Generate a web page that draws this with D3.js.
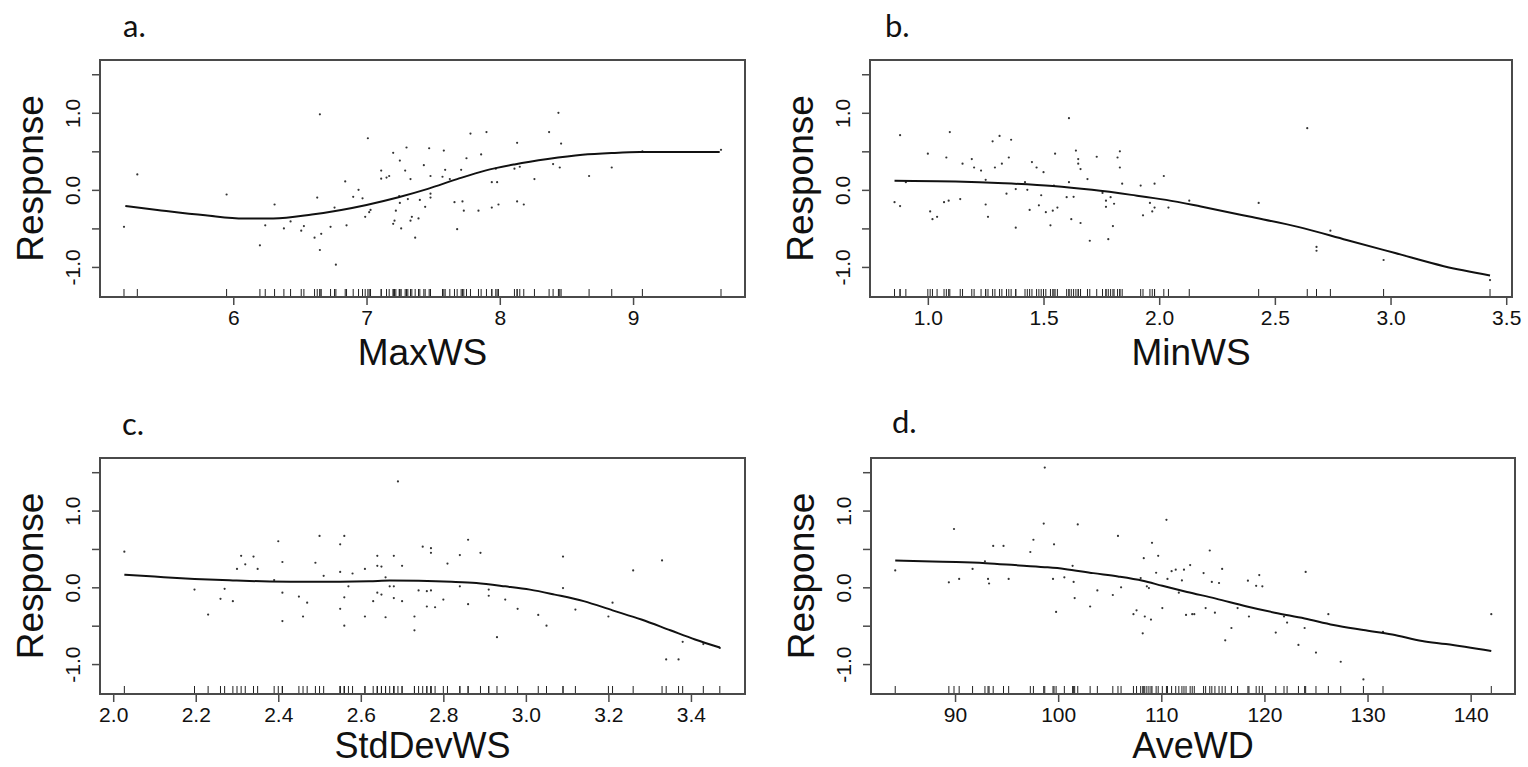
<!DOCTYPE html>
<html><head><meta charset="utf-8">
<script src="https://cdn.jsdelivr.net/npm/d3@7"></script>
<style>html,body{margin:0;padding:0;background:#fff;}svg{display:block;}</style>
</head><body>
<svg id="chart" width="1528" height="767"></svg>
<script>
// ---------- Data ----------
const panelLetters = ["a.", "b.", "c.", "d."];
const xLabels = ["MaxWS", "MinWS", "StdDevWS", "AveWD"];
const yLabel = "Response";
const yTicks = [-1, -0.5, 0, 0.5, 1, 1.5];
const yTickLabels = { "-1": "-1.0", "0": "0.0", "1": "1.0" };

const xTicksA = [6, 7, 8, 9];
const xTicksB = [1.0, 1.5, 2.0, 2.5, 3.0, 3.5];
const xTicksC = [2.0, 2.2, 2.4, 2.6, 2.8, 3.0, 3.2, 3.4];
const xTicksD = [90, 100, 110, 120, 130, 140];

// smooth response curves [x, y]
const curveA = [[5.19,-0.21],[5.43,-0.26],[5.79,-0.33],[6.08,-0.372],[6.30,-0.372],[6.59,-0.32],[6.81,-0.26],[7.0,-0.195],[7.24,-0.095],[7.46,0.013],[7.68,0.14],[7.89,0.25],[8.11,0.33],[8.36,0.40],[8.62,0.455],[8.84,0.478],[9.05,0.49],[9.65,0.49]];
const curveB = [[0.856,0.117],[1.12,0.108],[1.33,0.086],[1.54,0.05],[1.71,0.0],[1.88,-0.065],[2.03,-0.13],[2.18,-0.216],[2.39,-0.346],[2.60,-0.48],[2.81,-0.65],[3.02,-0.82],[3.23,-0.99],[3.43,-1.11]];
const curveC = [[2.027,0.164],[2.10,0.14],[2.197,0.11],[2.29,0.09],[2.36,0.078],[2.43,0.073],[2.55,0.073],[2.62,0.078],[2.67,0.09],[2.74,0.086],[2.82,0.073],[2.88,0.056],[2.95,0.013],[3.01,-0.03],[3.07,-0.095],[3.14,-0.18],[3.21,-0.30],[3.28,-0.42],[3.35,-0.56],[3.41,-0.68],[3.47,-0.785]];
const curveD = [[84.2,0.35],[87.8,0.336],[90.1,0.33],[93.0,0.315],[95.8,0.29],[98.7,0.263],[100.6,0.24],[103.4,0.185],[105.8,0.142],[108.2,0.086],[110.1,0.02],[112.5,-0.06],[115.3,-0.147],[118.2,-0.246],[121.0,-0.33],[123.9,-0.405],[126.7,-0.49],[129.6,-0.556],[132.4,-0.616],[135.3,-0.70],[137.6,-0.74],[142.0,-0.83]];

// partial residual points [x, y]; rug uses the x values
const pointsA = [[5.18,-0.48],[5.28,0.20],[5.95,-0.06],[6.20,-0.72],[6.24,-0.46],[6.31,-0.19],[6.38,-0.5],[6.43,-0.41],[6.51,-0.53],[6.53,-0.47],[6.61,-0.62],[6.63,-0.10],[6.65,0.98],[6.65,-0.78],[6.66,-0.57],[6.73,-0.48],[6.76,-0.23],[6.77,-0.97],[6.84,0.11],[6.85,-0.46],[6.90,-0.09],[6.94,0.0],[6.97,-0.11],[6.99,-0.35],[7.01,0.67],[7.02,-0.29],[7.03,-0.26],[7.11,0.25],[7.11,0.145],[7.15,0.16],[7.17,0.18],[7.20,0.48],[7.20,-0.44],[7.21,-0.40],[7.22,-0.27],[7.245,-0.08],[7.25,0.38],[7.25,-0.17],[7.26,-0.5],[7.29,0.25],[7.30,0.55],[7.31,-0.12],[7.33,0.14],[7.33,-0.4],[7.34,-0.35],[7.365,-0.62],[7.39,-0.37],[7.40,-0.13],[7.43,0.32],[7.44,-0.22],[7.47,0.54],[7.48,0.18],[7.48,-0.05],[7.48,-0.1],[7.57,0.17],[7.58,0.51],[7.59,0.26],[7.625,0.14],[7.66,-0.16],[7.68,-0.51],[7.71,0.26],[7.72,-0.15],[7.73,-0.27],[7.75,0.41],[7.78,0.73],[7.84,-0.27],[7.86,0.46],[7.90,0.75],[7.94,0.10],[7.94,-0.23],[7.97,0.275],[7.98,0.10],[7.99,-0.19],[8.11,0.275],[8.13,0.61],[8.13,-0.15],[8.15,0.30],[8.18,-0.19],[8.26,0.14],[8.37,0.75],[8.40,0.335],[8.44,1.0],[8.45,0.29],[8.46,0.60],[8.67,0.18],[8.84,0.29],[9.07,0.50],[9.66,0.52]];
const pointsB = [[0.856,-0.16],[0.88,-0.21],[0.88,0.71],[0.905,0.1],[1.0,0.47],[1.01,-0.28],[1.02,-0.38],[1.04,-0.35],[1.07,-0.16],[1.08,0.42],[1.09,-0.14],[1.095,0.75],[1.14,-0.12],[1.15,0.34],[1.19,0.40],[1.20,0.29],[1.23,0.25],[1.25,-0.19],[1.25,0.13],[1.26,-0.35],[1.28,0.63],[1.29,0.29],[1.31,0.70],[1.32,0.34],[1.34,-0.05],[1.35,0.42],[1.36,0.65],[1.38,-0.49],[1.38,0.01],[1.42,0.10],[1.43,0.0],[1.44,-0.26],[1.45,0.36],[1.47,0.29],[1.48,-0.20],[1.49,-0.07],[1.50,0.23],[1.51,-0.29],[1.53,-0.46],[1.54,-0.27],[1.545,0.056],[1.55,0.47],[1.56,-0.23],[1.60,-0.095],[1.61,0.93],[1.61,0.10],[1.62,-0.38],[1.63,-0.09],[1.64,0.51],[1.65,0.34],[1.65,0.40],[1.66,-0.43],[1.66,0.27],[1.69,0.14],[1.70,-0.66],[1.73,0.43],[1.755,-0.04],[1.77,-0.14],[1.77,-0.22],[1.78,-0.64],[1.79,-0.095],[1.80,-0.47],[1.805,-0.18],[1.82,0.42],[1.83,0.29],[1.83,0.50],[1.84,0.08],[1.92,0.056],[1.93,-0.33],[1.96,-0.17],[1.97,-0.28],[1.98,-0.23],[1.98,0.08],[2.02,0.18],[2.04,-0.23],[2.13,-0.14],[2.43,-0.17],[2.64,0.80],[2.68,-0.74],[2.68,-0.79],[2.74,-0.53],[2.97,-0.91],[3.43,-1.17]];
const pointsC = [[2.027,0.465],[2.197,-0.03],[2.23,-0.355],[2.26,-0.15],[2.27,-0.02],[2.29,-0.18],[2.30,0.24],[2.31,0.41],[2.32,0.30],[2.34,0.40],[2.35,0.24],[2.39,0.095],[2.40,0.60],[2.41,0.33],[2.41,-0.07],[2.41,-0.44],[2.45,-0.12],[2.46,-0.38],[2.47,-0.20],[2.49,0.32],[2.50,0.67],[2.51,0.15],[2.55,0.20],[2.55,0.56],[2.55,-0.28],[2.56,0.67],[2.56,-0.13],[2.56,-0.50],[2.57,0.013],[2.58,0.18],[2.61,0.24],[2.61,-0.38],[2.63,-0.18],[2.64,0.41],[2.64,0.28],[2.64,-0.07],[2.65,-0.095],[2.65,0.27],[2.66,0.13],[2.66,-0.39],[2.67,0.013],[2.68,0.013],[2.68,-0.14],[2.68,0.41],[2.69,1.38],[2.70,0.28],[2.70,-0.18],[2.73,-0.38],[2.73,-0.56],[2.74,-0.04],[2.75,0.53],[2.76,-0.05],[2.76,-0.25],[2.77,0.45],[2.77,0.51],[2.77,-0.04],[2.78,-0.26],[2.80,-0.16],[2.81,0.31],[2.84,0.42],[2.84,0.013],[2.86,0.62],[2.86,-0.22],[2.89,0.45],[2.91,-0.03],[2.91,-0.11],[2.93,-0.65],[2.95,-0.16],[2.98,-0.28],[3.03,-0.36],[3.05,-0.50],[3.09,0.40],[3.09,-0.01],[3.12,-0.29],[3.20,-0.38],[3.21,-0.20],[3.26,0.22],[3.33,0.35],[3.34,-0.94],[3.37,-0.94],[3.38,-0.71],[3.43,-0.74],[3.47,-0.79]];
const pointsD = [[84.2,0.22],[89.4,0.065],[89.9,0.76],[90.4,0.11],[91.7,0.24],[92.9,0.34],[93.2,0.11],[93.3,0.05],[93.7,0.54],[94.7,0.54],[95.2,0.11],[97.3,0.46],[97.6,0.62],[98.6,0.83],[98.7,1.56],[99.5,0.11],[99.6,0.56],[99.8,-0.32],[100.6,0.13],[101.4,0.28],[101.5,0.07],[101.6,-0.14],[101.9,0.82],[103.1,-0.25],[103.8,-0.04],[105.3,-0.10],[105.8,0.67],[106.1,0.0],[107.3,-0.35],[107.6,-0.30],[108.0,0.12],[108.2,-0.60],[108.3,0.38],[108.4,-0.38],[108.6,0.013],[108.8,-0.01],[109.0,-0.42],[109.1,0.58],[109.5,0.19],[109.7,0.41],[110.1,-0.27],[110.5,0.88],[110.6,0.11],[111.0,0.21],[111.4,0.23],[111.7,-0.07],[112.0,0.09],[112.2,0.23],[112.4,-0.36],[112.8,0.29],[113.0,-0.35],[113.2,-0.35],[114.1,0.185],[114.3,-0.27],[114.7,0.48],[114.9,0.07],[115.2,-0.33],[115.6,0.056],[115.9,0.24],[116.2,-0.69],[116.8,-0.53],[117.4,-0.27],[118.4,0.086],[118.5,-0.38],[119.2,0.02],[119.5,0.16],[119.8,0.013],[121.1,-0.59],[121.9,-0.38],[122.2,-0.46],[123.3,-0.75],[123.9,-0.53],[124.0,0.20],[125.0,-0.85],[126.2,-0.35],[127.4,-0.97],[129.6,-1.20],[131.5,-0.58],[142.0,-0.35]];

// ---------- Layout ----------
const panels = [
  { box:[100,60,745,297], xdom:[5.0,9.84], ticks:xTicksA, fmt:d3.format("d"), curve:curveA, pts:pointsA, letterPos:[123,37] },
  { box:[870,60,1512,297], xdom:[0.75,3.525], ticks:xTicksB, fmt:d3.format(".1f"), curve:curveB, pts:pointsB, letterPos:[885,37] },
  { box:[100,458,745,694], xdom:[1.968,3.531], ticks:xTicksC, fmt:d3.format(".1f"), curve:curveC, pts:pointsC, letterPos:[122,435] },
  { box:[871,458,1515,694], xdom:[81.85,144.3], ticks:xTicksD, fmt:d3.format("d"), curve:curveD, pts:pointsD, letterPos:[892,433] }
];
const ydom = [-1.39, 1.685];

const svg = d3.select("#chart");
const axisColor = "#4a4a4a";

panels.forEach((p, i) => {
  const [x0, y0, x1, y1] = p.box;
  const x = d3.scaleLinear().domain(p.xdom).range([x0, x1]);
  const y = d3.scaleLinear().domain(ydom).range([y1, y0]);
  const g = svg.append("g");

  // panel letter
  g.append("text").attr("x", p.letterPos[0]).attr("y", p.letterPos[1])
    .attr("font-family", "Lato, 'Open Sans', sans-serif").attr("font-size", 31)
    .attr("fill", "#111").text(panelLetters[i]);

  // x axis
  const xAxis = d3.axisBottom(x).tickValues(p.ticks).tickFormat(p.fmt).tickSize(8).tickPadding(5);
  const gx = g.append("g").attr("transform", `translate(0,${y1})`).call(xAxis);
  gx.select(".domain").remove();
  gx.selectAll(".tick line").attr("stroke", axisColor).attr("stroke-width", 1.5);
  gx.selectAll(".tick text").attr("font-family", "'Liberation Sans', Arial, sans-serif")
    .attr("font-size", 21).attr("fill", "#111").attr("dy", "0.71em");

  // y axis
  const yAxis = d3.axisLeft(y).tickValues(yTicks).tickSize(8)
    .tickFormat(d => yTickLabels[String(d)] || "");
  const gy = g.append("g").attr("transform", `translate(${x0},0)`).call(yAxis);
  gy.select(".domain").remove();
  gy.selectAll(".tick line").attr("stroke", axisColor).attr("stroke-width", 1.5);
  gy.selectAll(".tick text")
    .attr("font-family", "'Liberation Sans', Arial, sans-serif").attr("font-size", 21).attr("fill", "#111")
    .attr("x", null).attr("dy", null).attr("text-anchor", "middle")
    .attr("transform", "translate(-20,0) rotate(-90)");

  // rug
  g.append("g").selectAll("line").data(p.pts).join("line")
    .attr("x1", d => x(d[0])).attr("x2", d => x(d[0]))
    .attr("y1", y1).attr("y2", y1 - 8)
    .attr("stroke", "#222").attr("stroke-width", 1);

  // points
  g.append("g").selectAll("circle").data(p.pts).join("circle")
    .attr("cx", d => x(d[0])).attr("cy", d => y(d[1])).attr("r", 1.1)
    .attr("fill", "#333");

  // curve
  const line = d3.line().x(d => x(d[0])).y(d => y(d[1])).curve(d3.curveMonotoneX);
  g.append("path").datum(p.curve).attr("d", line)
    .attr("fill", "none").attr("stroke", "#111").attr("stroke-width", 2);

  // box
  g.append("rect").attr("x", x0).attr("y", y0).attr("width", x1 - x0).attr("height", y1 - y0)
    .attr("fill", "none").attr("stroke", axisColor).attr("stroke-width", 2);

  // axis titles
  g.append("text").attr("x", (x0 + x1) / 2).attr("y", y1 + (i < 2 ? 68 : 64)).attr("text-anchor", "middle")
    .attr("font-family", "'Liberation Sans', Arial, sans-serif").attr("font-size", i < 2 ? 37 : 36).attr("fill", "#111")
    .text(xLabels[i]);
  g.append("text").attr("transform", `translate(${x0 - 57},${(y0 + y1) / 2}) rotate(-90)`)
    .attr("text-anchor", "middle")
    .attr("font-family", "'Liberation Sans', Arial, sans-serif").attr("font-size", 37).attr("fill", "#111")
    .text(yLabel);
});
</script>
</body></html>
